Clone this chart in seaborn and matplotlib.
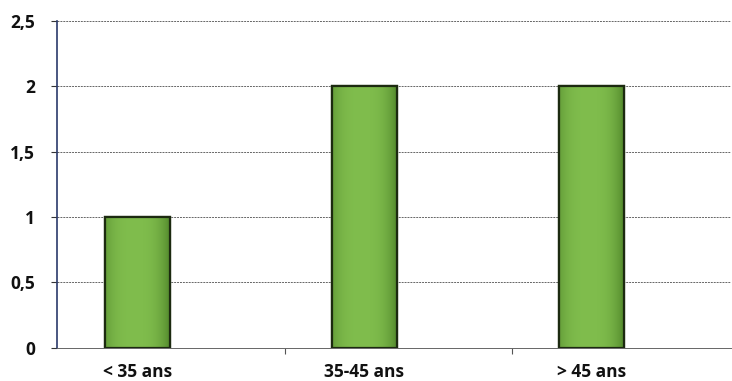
import numpy as np
import pandas as pd
import matplotlib
matplotlib.use("Agg")
import matplotlib.pyplot as plt
import seaborn as sns

# données
categories = ["< 35 ans", "35-45 ans", "> 45 ans"]
valeurs = [1, 2, 2]
graduations_y = [0, 0.5, 1, 1.5, 2, 2.5]
etiquettes_y = ["0", "0,5", "1", "1,5", "2", "2,5"]

df = pd.DataFrame({"classe": categories, "nombre": valeurs})

sns.set_theme(style="white")
plt.rcParams["font.family"] = ["Open Sans", "DejaVu Sans"]

fig = plt.figure(figsize=(7.32, 3.81), dpi=100)
ax = fig.add_axes([0.078, 0.087, 0.92, 0.858])

sns.barplot(data=df, x="classe", y="nombre", color="#6aaa3c", width=0.286,
            edgecolor="#1c2a10", linewidth=1.6, saturation=1, ax=ax, zorder=3)

# léger dégradé horizontal dans chaque barre
grad = np.linspace(0, 1, 64)
profil = 1 - (np.abs(grad - 0.45) * 2) ** 3
clair = np.array([0.50, 0.74, 0.30])
fonce = np.array([0.36, 0.58, 0.20])
img = (fonce[None, :] + (clair - fonce)[None, :] * profil[:, None])[None, :, :]
for barre in ax.patches:
    x0, y0 = barre.get_x(), barre.get_y()
    w, h = barre.get_width(), barre.get_height()
    im = ax.imshow(img, extent=[x0, x0 + w, y0, y0 + h], aspect="auto", zorder=3.5,
                   interpolation="bilinear")
    im.set_clip_path(barre)
    contour = plt.Rectangle((x0, y0), w, h, fill=False, edgecolor="#1c2a10",
                            linewidth=1.6, zorder=4)
    ax.add_patch(contour)

ax.set_xlim(-0.352, 2.61)
ax.set_ylim(0, 2.5)
ax.set_yticks(graduations_y)
ax.set_yticklabels(etiquettes_y)
ax.set_xlabel("")
ax.set_ylabel("")

ax.grid(axis="y", color="#666666", linestyle=(0, (2, 1)), linewidth=0.7, zorder=0)
ax.set_axisbelow(True)

for cote in ["top", "right"]:
    ax.spines[cote].set_visible(False)
ax.spines["left"].set_color("#2b3a6b")
ax.spines["left"].set_linewidth(1.2)
ax.spines["bottom"].set_color("#666666")
ax.spines["bottom"].set_linewidth(0.7)
ax.spines["bottom"].set_linestyle((0, (2, 1)))

ax.tick_params(axis="y", length=4, width=0.8, color="#333333", pad=12,
               labelsize=12.5, left=True)
ax.tick_params(axis="x", length=0, pad=11, labelsize=12.5)
ax.set_xticks([0.65, 1.65], minor=True)
ax.tick_params(axis="x", which="minor", length=4, width=0.8, color="#555555", bottom=True)

for lab in ax.get_xticklabels() + ax.get_yticklabels():
    lab.set_fontweight("bold")
    lab.set_color("#111111")

fig.savefig("out.png", dpi=100)
